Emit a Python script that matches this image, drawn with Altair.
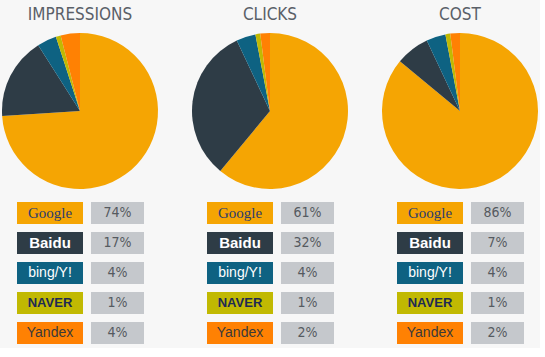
import altair as alt
import pandas as pd

engines = ["Google", "Baidu", "Bing/Yahoo", "Naver", "Yandex"]
logo_text = ["Google", "Baidu", "bing/Y!", "NAVER", "Yandex"]
metrics = ["IMPRESSIONS", "CLICKS", "COST"]
impressions = [74, 17, 4, 1, 4]
clicks = [61, 32, 4, 1, 2]
cost = [86, 7, 4, 1, 2]
colors = ["#F5A503", "#2E3C46", "#0E6282", "#C1B902", "#FF8103"]

COND = "DejaVu Sans Condensed"
logo_styles = {
    "Google": dict(font="Liberation Serif", fontSize=15, fontWeight="normal", color="#2B3C6E"),
    "Baidu": dict(font="Liberation Sans", fontSize=15, fontWeight="bold", color="#FFFFFF"),
    "Bing/Yahoo": dict(font="Liberation Sans", fontSize=14, fontWeight="normal", color="#FFFFFF"),
    "Naver": dict(font="Liberation Sans", fontSize=13, fontWeight="bold", color="#1E2A55"),
    "Yandex": dict(font="Liberation Sans", fontSize=14, fontWeight="normal", color="#3A3A3A"),
}

series = [impressions, clicks, cost]
panels = []
for m, vals in zip(metrics, series):
    df = pd.DataFrame({
        "engine": engines,
        "logo": logo_text,
        "value": vals,
        "idx": list(range(len(engines))),
        "pct": [f"{v}%" for v in vals],
    })
    base = alt.Chart(df)
    pie = base.mark_arc(outerRadius=78).encode(
        theta=alt.Theta("value:Q", stack=True),
        color=alt.Color("engine:N", scale=alt.Scale(domain=engines, range=colors), legend=None),
        order=alt.Order("idx:Q"),
        x=alt.value(80),
        y=alt.value(111),
    )
    title = alt.Chart(pd.DataFrame({"t": [m]})).mark_text(
        font=COND, fontSize=17, fontWeight=300, color="#5A6068", baseline="middle"
    ).encode(text="t:N", x=alt.value(80), y=alt.value(15))
    top = alt.layer(pie, title).properties(width=160, height=190)

    yscale = alt.Scale(domain=engines, paddingInner=0.267, paddingOuter=0.133)
    yenc = alt.Y("engine:N", scale=yscale, axis=None, sort=engines)
    logo_rect = base.mark_rect().encode(
        y=yenc, x=alt.value(17), x2=alt.value(83),
        color=alt.Color("engine:N", scale=alt.Scale(domain=engines, range=colors), legend=None),
    )
    pct_rect = base.mark_rect(color="#C5C8CC").encode(y=yenc, x=alt.value(91), x2=alt.value(144))
    pct_text = base.mark_text(font=COND, fontSize=14, fontWeight=300, color="#555A60").encode(
        y=yenc, x=alt.value(117.5), text="pct:N"
    )
    layers = [logo_rect, pct_rect, pct_text]
    for e in engines:
        st = logo_styles[e]
        layers.append(
            base.transform_filter(alt.datum.engine == e).mark_text(**st).encode(
                y=yenc, x=alt.value(50), text="logo:N"
            )
        )
    table = alt.layer(*layers).properties(width=160, height=150)
    panels.append(alt.vconcat(top, table, spacing=8))

chart = alt.hconcat(*panels, spacing=30).properties(
    background="#F7F7F7",
    padding={"left": 0, "top": 0, "right": 0, "bottom": 0},
).configure_view(stroke=None)

chart.save("out.html", embed_options={"renderer": "svg", "actions": False})
